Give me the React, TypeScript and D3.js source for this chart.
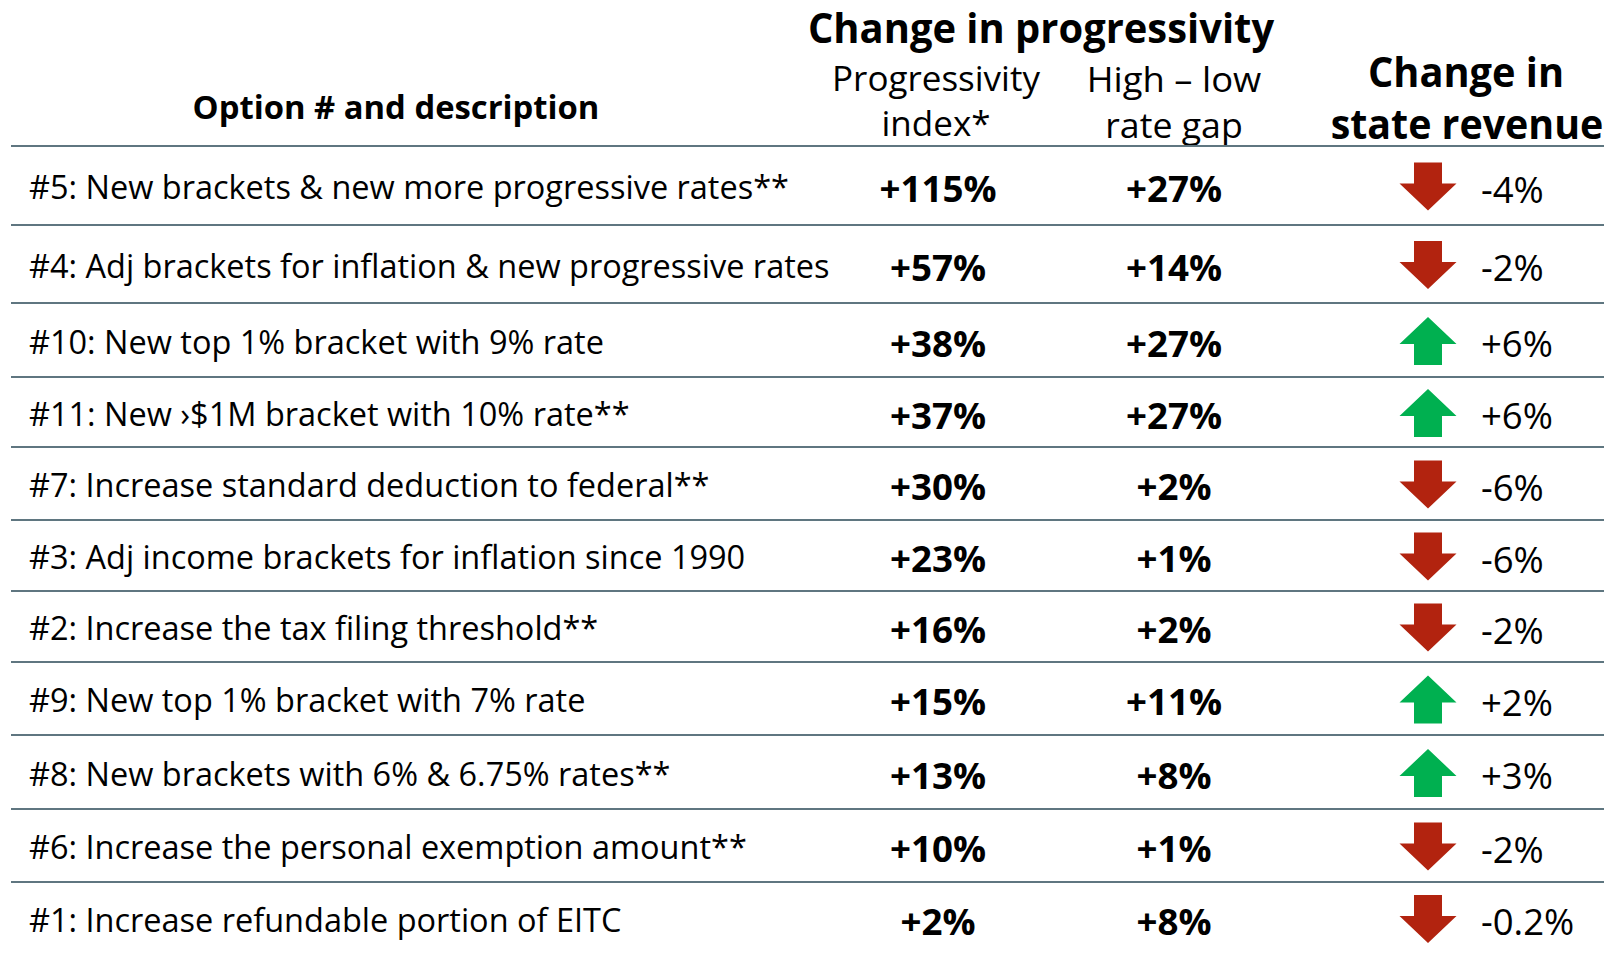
import React from "react";
import * as d3 from "d3";

// ---------- data ----------
const options = [
  "#5: New brackets & new more progressive rates**",
  "#4: Adj brackets for inflation & new progressive rates",
  "#10: New top 1% bracket with 9% rate",
  "#11: New \u203A$1M bracket with 10% rate**",
  "#7: Increase standard deduction to federal**",
  "#3: Adj income brackets for inflation since 1990",
  "#2: Increase the tax filing threshold**",
  "#9: New top 1% bracket with 7% rate",
  "#8: New brackets with 6% & 6.75% rates**",
  "#6: Increase the personal exemption amount**",
  "#1: Increase refundable portion of EITC",
];
const progressivityIndex = [115, 57, 38, 37, 30, 23, 16, 15, 13, 10, 2];
const rateGap = [27, 14, 27, 27, 2, 1, 2, 11, 8, 1, 8];
const revenueChange = [-4, -2, 6, 6, -6, -6, -2, 2, 3, -2, -0.2];

// ---------- layout ----------
const W = 1614;
const H = 953;
const TABLE_TOP = 146;
const ROW_HEIGHTS = [79, 78, 74, 70, 73, 71, 71, 73, 74, 73, 72];
const LINE_X0 = 11;
const LINE_X1 = 1604;
const DESC_X = 29;
const COL_INDEX = 938;
const COL_GAP = 1174;
const ARROW_X = 1428;
const REV_X = 1481;
const FONT = "'Open Sans', 'Noto Sans', sans-serif";
const LINE_COLOR = "#5f7680";
const RED = "#b2230f";
const GREEN = "#00b050";

const fmtPlus = (v: number) => (v > 0 ? "+" : "") + v + "%";

type TxtProps = {
  x: number;
  cy: number;
  size: number;
  weight?: number;
  anchor?: "start" | "middle" | "end";
  sx?: number;
  children: React.ReactNode;
};
const Txt = ({ x, cy, size, weight = 400, anchor = "start", sx = 1, children }: TxtProps) => (
  <text
    transform={`translate(${x},${cy + size * 0.357}) scale(${sx},1)`}
    fontFamily={FONT}
    fontSize={size}
    fontWeight={weight}
    textAnchor={anchor}
    fill="#000"
  >
    {children}
  </text>
);

function arrowPath(cx: number, cy: number, up: boolean) {
  const headW = 57, shaftW = 28, headH = 27, shaftH = 21;
  const total = headH + shaftH;
  const s = up ? -1 : 1;
  const top = cy - (s * total) / 2;
  const p = d3.path();
  p.moveTo(cx - shaftW / 2, top);
  p.lineTo(cx + shaftW / 2, top);
  p.lineTo(cx + shaftW / 2, top + s * shaftH);
  p.lineTo(cx + headW / 2, top + s * shaftH);
  p.lineTo(cx, top + s * total);
  p.lineTo(cx - headW / 2, top + s * shaftH);
  p.lineTo(cx - shaftW / 2, top + s * shaftH);
  p.closePath();
  return p.toString();
}

export default function App() {
  const cum = [0, ...Array.from(d3.cumsum(ROW_HEIGHTS))];
  const total = d3.sum(ROW_HEIGHTS);
  const y = d3.scaleLinear().domain([0, total]).range([TABLE_TOP, TABLE_TOP + total]);
  const rowTop = (i: number) => y(cum[i]);
  const rowMid = (i: number) => y((cum[i] + cum[i + 1]) / 2);

  return (
    <svg
      width={W}
      height={H}
      style={{ position: "absolute", left: 0, top: 0, background: "#fff" }}
    >
      <rect x={0} y={0} width={W} height={H} fill="#fff" />

      {/* headers */}
      <Txt x={1041} cy={28} size={42} weight={700} anchor="middle" sx={0.95}>
        Change in progressivity
      </Txt>
      <Txt x={936} cy={79} size={35} anchor="middle">Progressivity</Txt>
      <Txt x={936} cy={124} size={35} anchor="middle">index*</Txt>
      <Txt x={1174} cy={80} size={35} anchor="middle" sx={1.04}>High – low</Txt>
      <Txt x={1174} cy={126} size={35} anchor="middle" sx={1.02}>rate gap</Txt>
      <Txt x={1466} cy={72} size={41} weight={700} anchor="middle" sx={0.97}>Change in</Txt>
      <Txt x={1467} cy={124} size={41} weight={700} anchor="middle" sx={0.96}>state revenue</Txt>
      <Txt x={396} cy={108} size={32} weight={700} anchor="middle" sx={1.025}>Option # and description</Txt>

      {/* row separators */}
      {options.map((_, i) => (
        <line
          key={"l" + i}
          x1={LINE_X0}
          x2={LINE_X1}
          y1={rowTop(i)}
          y2={rowTop(i)}
          stroke={LINE_COLOR}
          strokeWidth={2.2}
        />
      ))}

      {/* rows */}
      {options.map((opt, i) => {
        const m = rowMid(i);
        const rv = revenueChange[i];
        return (
          <g key={"r" + i}>
            <Txt x={DESC_X} cy={m + 2.5} size={32} sx={1.015}>{opt}</Txt>
            <Txt x={COL_INDEX} cy={m + 4} size={36} weight={700} anchor="middle" sx={1.02}>
              {fmtPlus(progressivityIndex[i])}
            </Txt>
            <Txt x={COL_GAP} cy={m + 4} size={36} weight={700} anchor="middle" sx={1.02}>
              {fmtPlus(rateGap[i])}
            </Txt>
            <path d={arrowPath(ARROW_X, m + 1, rv > 0)} fill={rv > 0 ? GREEN : RED} />
            <Txt x={REV_X} cy={m + 4} size={36.5}>{fmtPlus(rv)}</Txt>
          </g>
        );
      })}
    </svg>
  );
}
